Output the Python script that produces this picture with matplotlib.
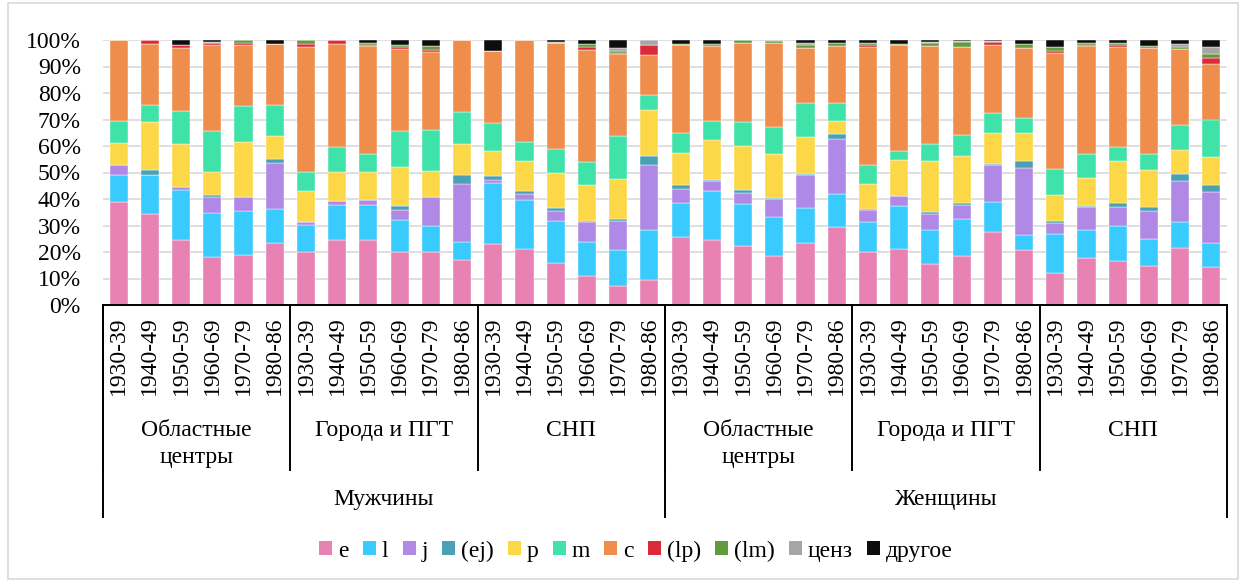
import matplotlib.pyplot as plt
import matplotlib.transforms as mtransforms
from matplotlib.patches import Rectangle, Patch
import numpy as np

plt.rcParams['font.family'] = ['Liberation Serif', 'DejaVu Serif']

years = ["1930-39", "1940-49", "1950-59", "1960-69", "1970-79", "1980-86"]
places = ["Областные\nцентры", "Города и ПГТ", "СНП"]
sexes = ["Мужчины", "Женщины"]

# shares (%) per bar: men (obl, towns, snp) then women (obl, towns, snp)
e = [38.8, 34.5, 24.7, 18.2, 18.8, 23.4, 20.1, 24.5, 24.5, 20.1, 20.1, 16.9,
     23.0, 21.0, 15.8, 11.1, 7.1, 9.5, 25.8, 24.5, 22.3, 18.4, 23.4, 29.5,
     20.1, 21.3, 15.3, 18.6, 27.5, 20.7, 11.9, 17.8, 16.7, 14.6, 21.5, 14.5]
l = [10.2, 14.7, 18.7, 16.4, 16.7, 12.8, 10.1, 13.4, 13.1, 12.1, 9.7, 7.0,
     23.0, 18.6, 15.9, 12.6, 13.6, 18.8, 12.8, 18.4, 15.7, 14.9, 13.2, 12.5,
     11.3, 15.9, 13.1, 13.8, 11.3, 5.9, 14.9, 10.5, 13.0, 10.3, 9.8, 8.9]
j = [4.0, 0, 1.0, 6.1, 5.2, 17.5, 1.2, 1.2, 2.0, 3.8, 10.9, 21.9,
     1.2, 2.3, 3.8, 7.5, 11.0, 24.6, 5.0, 3.9, 4.4, 6.7, 12.3, 20.5,
     4.5, 3.8, 6.1, 5.4, 13.9, 25.0, 4.1, 8.6, 7.4, 10.5, 15.4, 19.4]
ej = [0, 1.6, 0, 0.7, 0, 1.4, 0, 0, 0, 1.2, 0, 3.4,
      1.4, 1.3, 1.2, 0.5, 0.6, 3.5, 1.5, 0.5, 1.0, 0.4, 0.5, 2.1,
      0.5, 0, 0.5, 0.7, 0.6, 2.8, 0.9, 0.3, 1.5, 1.5, 2.9, 2.5]
p = [8.1, 18.1, 16.5, 8.7, 20.8, 8.8, 11.5, 11.0, 10.5, 14.8, 9.8, 11.7,
     9.5, 11.1, 13.3, 13.6, 15.4, 17.1, 12.3, 14.8, 16.6, 16.7, 14.0, 4.7,
     9.3, 13.9, 19.2, 17.8, 11.5, 10.4, 9.7, 10.9, 15.6, 14.2, 8.9, 10.5]
m = [8.2, 6.5, 12.3, 15.4, 13.6, 11.4, 7.2, 9.5, 7.0, 13.5, 15.7, 12.1,
     10.7, 7.3, 8.7, 8.7, 16.2, 5.7, 7.5, 7.2, 9.1, 10.1, 12.7, 6.8,
     7.0, 3.1, 6.7, 7.7, 7.5, 5.8, 9.8, 9.0, 5.5, 6.0, 9.6, 14.2]
c = [30.7, 23.0, 23.9, 32.7, 22.9, 23.2, 47.1, 39.0, 40.5, 31.2, 29.4, 27.0,
     27.2, 38.4, 40.0, 42.2, 30.8, 15.1, 33.1, 28.6, 29.6, 31.5, 21.0, 21.8,
     44.8, 40.1, 37.0, 33.5, 25.8, 26.5, 43.9, 40.8, 37.8, 39.7, 28.4, 21.0]
lp = [0, 1.6, 0.9, 0.8, 0.9, 0, 1.4, 1.4, 0.5, 0.5, 0.6, 0,
      0, 0, 0, 1.0, 0.5, 3.7, 0, 0, 0.3, 0.3, 0, 0,
      0.7, 0, 0, 0, 1.0, 0, 0.5, 0.3, 0.7, 0, 0.2, 2.3]
lm = [0, 0, 0, 0, 1.1, 0, 1.4, 0, 0.6, 0.9, 1.7, 0,
      0, 0, 0, 1.3, 0.8, 0, 0.5, 0.6, 1.0, 0.6, 1.1, 1.1,
      0.7, 0.4, 0.8, 1.6, 0, 1.4, 1.8, 0.8, 0.7, 1.1, 0.8, 1.4]
cenz = [0, 0, 0, 0.3, 0, 0, 0, 0, 0, 0, 0, 0,
        0, 0, 0.5, 0, 1.1, 2.0, 0, 0, 0, 0.4, 0.8, 0,
        0, 0, 0.7, 0.5, 0.5, 0, 0, 0, 0, 0, 1.0, 2.8]
other = [0, 0, 2.0, 0.7, 0, 1.5, 0, 0, 1.3, 1.9, 2.1, 0,
         4.0, 0, 0.8, 1.5, 2.9, 0, 1.5, 1.5, 0, 0, 1.0, 1.0,
         1.1, 1.5, 0.6, 0.4, 0.4, 1.5, 2.5, 1.0, 1.1, 2.1, 1.5, 2.5]

series = [("e", e, "#E782B3"), ("l", l, "#3ACBFE"), ("j", j, "#B088E5"),
          ("(ej)", ej, "#4AA0B5"), ("p", p, "#FCD849"), ("m", m, "#3FE3A9"),
          ("c", c, "#EF8E4C"), ("(lp)", lp, "#DC2A3B"), ("(lm)", lm, "#629A3D"),
          ("ценз", cenz, "#A6A6A6"), ("другое", other, "#0D0D0D")]

W, H = 1244, 581
FS = 17
fig = plt.figure(figsize=(W / 100, H / 100), dpi=100)
ax = fig.add_axes([103 / W, 1 - 305 / H, (1227 - 103) / W, 265 / H])

n = len(e)
x = np.arange(n)
bottom = np.zeros(n)
for name, vals, col in series:
    vals = np.array(vals, dtype=float)
    ax.bar(x, vals, 0.58, bottom=bottom, color=col, edgecolor="white",
           linewidth=0.3, zorder=3)
    bottom += vals

ax.set_xlim(-0.5, n - 0.5)
ax.set_ylim(0, 100)
ax.set_yticks(np.arange(0, 101, 10))
ax.set_yticklabels([f"{v}%" for v in range(0, 101, 10)], fontsize=FS)
ax.tick_params(axis="y", length=0, pad=16)
ax.set_xticks([])
ax.grid(axis="y", color="#D9D9D9", linewidth=1.2, zorder=0)
for s in ["left", "right", "top"]:
    ax.spines[s].set_visible(False)
ax.spines["bottom"].set_linewidth(1.4)
ax.spines["bottom"].set_zorder(4)

# multi-level category axis below the bars
tr = mtransforms.blended_transform_factory(ax.transData, fig.transFigure)
fy = lambda px: 1 - px / H

for i in range(n):
    ax.text(i, fy(316), years[i % 6], rotation=90, ha="center", va="top",
            fontsize=FS, transform=tr)

for g in range(6):
    x0 = g * 6 - 0.5
    ax.plot([x0, x0], [fy(305), fy(470)], color="black", lw=1.4,
            transform=tr, clip_on=False)
    ax.text(x0 + 3, fy(420), places[g % 3], ha="center", va="top",
            fontsize=FS, linespacing=1.4, transform=tr)
ax.plot([n - 0.5, n - 0.5], [fy(305), fy(517)], color="black", lw=1.4,
        transform=tr, clip_on=False)

for k in range(2):
    x0 = k * 18 - 0.5
    ax.plot([x0, x0], [fy(305), fy(517)], color="black", lw=1.4,
            transform=tr, clip_on=False)
    ax.text(x0 + 9, fy(500), sexes[k], ha="center", va="center",
            fontsize=FS, transform=tr)

handles = [Patch(facecolor=col, edgecolor="none", label=name)
           for name, _, col in series]
fig.legend(handles=handles, loc="center", bbox_to_anchor=(636 / W, fy(551)),
           ncol=len(handles), frameon=False, fontsize=FS,
           handlelength=0.55, handleheight=0.55, handletextpad=0.25,
           columnspacing=0.6, borderaxespad=0)

fig.patches.append(Rectangle((8 / W, 2 / H), 1230 / W, 576 / H,
                             transform=fig.transFigure, fill=False,
                             edgecolor="#D9D9D9", linewidth=1.2))

fig.savefig("out.png", dpi=100)
